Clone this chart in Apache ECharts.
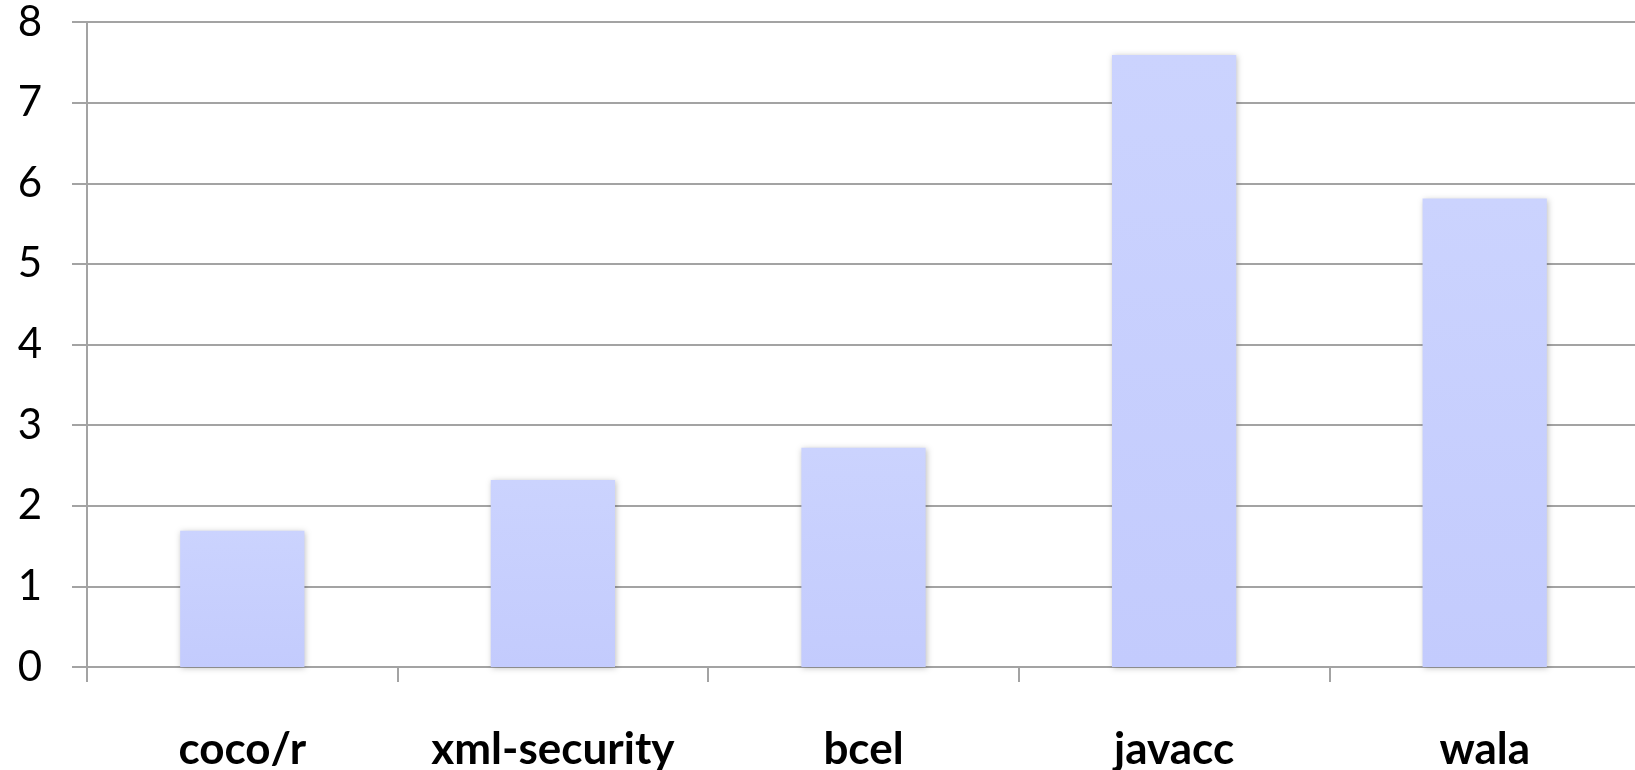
<!DOCTYPE html>
<html>
<head>
<meta charset="utf-8">
<title>bar chart</title>
<script src="https://cdn.jsdelivr.net/npm/echarts@6/dist/echarts.min.js"></script>
<style>
  html, body { margin: 0; padding: 0; background: #fff; }
  #chart { width: 1635px; height: 770px; }
</style>
</head>
<body>
<div id="chart"></div>
<script>
// data
const categories = ['coco/r', 'xml-security', 'bcel', 'javacc', 'wala'];
const values = [1.69, 2.32, 2.72, 7.59, 5.81];
const yTicks = [0, 1, 2, 3, 4, 5, 6, 7, 8];

const gridColor = '#a3a3a3';

function drawChart(dom, option) {
  const chartDom = document.querySelector(dom);
  const myChart = echarts.init(chartDom);
  option && myChart.setOption(option);
  return myChart;
}

const option = {
  animation: false,
  grid: {
    left: 87,
    right: -5,
    top: 22,
    bottom: 103,
    containLabel: false,
    outerBoundsMode: 'none'
  },
  xAxis: {
    type: 'category',
    data: categories,
    axisLine: { show: true, lineStyle: { color: gridColor, width: 2 } },
    axisTick: { show: true, interval: 0, length: 15, lineStyle: { color: gridColor, width: 2 } },
    axisLabel: {
      interval: 0,
      hideOverlap: false,
      margin: 61,
      color: '#000',
      fontFamily: 'Lato',
      fontWeight: 'bold',
      fontSize: 44
    }
  },
  yAxis: {
    type: 'value',
    min: yTicks[0],
    max: yTicks[yTicks.length - 1],
    interval: 1,
    axisLine: { show: true, lineStyle: { color: gridColor, width: 2 } },
    axisTick: { show: true, length: 15, lineStyle: { color: gridColor, width: 2 } },
    splitLine: { show: true, lineStyle: { color: gridColor, width: 2 } },
    axisLabel: {
      margin: 45,
      padding: [10, 0, 0, 0],
      color: '#000',
      fontFamily: 'Lato',
      fontSize: 42
    }
  },
  series: [
    {
      type: 'bar',
      data: values,
      barWidth: '40%',
      itemStyle: {
        color: new echarts.graphic.LinearGradient(0, 0, 0, 1, [
          { offset: 0, color: '#cbd3fe' },
          { offset: 1, color: '#c3cbfd' }
        ]),
        shadowBlur: 6,
        shadowColor: 'rgba(0,0,0,0.25)',
        shadowOffsetX: 1,
        shadowOffsetY: 1
      }
    }
  ]
};

drawChart('#chart', option);
</script>
</body>
</html>
